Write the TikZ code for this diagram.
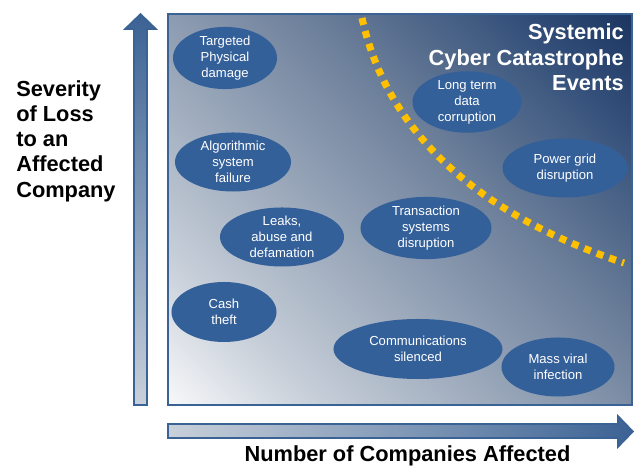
\documentclass[tikz,border=0pt]{standalone}
\usepackage{fontspec}
\setmainfont{Liberation Sans}
\usetikzlibrary{positioning,shapes.geometric}
\definecolor{mynavy}{HTML}{1A3560}
\definecolor{mylight}{HTML}{F8F8FA}
\definecolor{mypale}{HTML}{C8D0DA}
\definecolor{myblue}{HTML}{34609A}
\definecolor{myedge}{HTML}{3B6294}
\definecolor{mygold}{HTML}{FFC000}

\pgfdeclarehorizontalshading{panelshade}{100bp}{
  color(0bp)=(mylight); color(25bp)=(mylight);
  color(34bp)=(rgb,255:red,198;green,206;blue,216);
  color(50bp)=(rgb,255:red,132;green,148;blue,171);
  color(56bp)=(rgb,255:red,108;green,127;blue,154);
  color(68bp)=(rgb,255:red,52;green,80;blue,122);
  color(75bp)=(mynavy); color(100bp)=(mynavy)}

\tikzset{
  event/.style={ellipse, fill=myblue, text=white, inner sep=0pt, align=center,
    font=\fontsize{9.3}{11.3}\selectfont},
  bigtext/.style={font=\fontsize{15.5}{18}\selectfont\bfseries, inner sep=0pt}
}

\begin{document}
\begin{tikzpicture}[x=0.025cm, y=0.025cm]

\useasboundingbox (0,0) rectangle (640,466);
% filling
\begin{scope}
\clip (168,61) rectangle (632,452);
\begin{scope}[transform canvas={rotate around={45:(400,256.5)}}]
\shade [shading=panelshade] (97.7,-45.8) rectangle (702.3,558.8);
\end{scope}
\end{scope}
\draw [myedge, line width=1.4pt] (168,61) rectangle (632,452);
% arrows
\shade [draw=myedge, line width=1.1pt, top color=myedge, bottom color=mypale, shading angle=0]
  (134,61) -- (134,437) -- (125,437) -- (140.5,452) -- (156,437) -- (147,437) -- (147,61) -- cycle;
\shade [draw=myedge, line width=1.1pt, left color=mypale, right color=myedge]
  (168,28) -- (168,42) -- (618,42) -- (618,50) -- (633,34.5) -- (618,19) -- (618,28) -- cycle;
% boundary
\draw [mygold, line width=5pt, dash pattern=on 5pt off 4.5pt] (362,448) .. controls (382,356) and (450,261) .. (624,203);
% events
\node [event, minimum width=2.6cm, minimum height=1.5cm] (physical) at (225,408) {Targeted\\Physical\\damage};
\node [event, minimum width=2.9cm, minimum height=1.475cm] (algo) at (233,304) {Algorithmic\\system\\failure};
\node [event, minimum width=3.1cm, minimum height=1.475cm] (leaks) at (282,229) {Leaks,\\abuse and\\defamation};
\node [event, minimum width=2.625cm, minimum height=1.5cm] (cash) at (224,154) {Cash\\theft};
\node [event, minimum width=3.275cm, minimum height=1.5cm] (transaction) at (426,238) {Transaction\\systems\\disruption};
\node [event, minimum width=4.225cm, minimum height=1.5cm] (comms) at (418,117) {Communications\\silenced};
\node [event, minimum width=2.825cm, minimum height=1.475cm] (viral) at (558,99) {Mass viral\\infection};
\node [event, minimum width=2.725cm, minimum height=1.45cm] (corruption) at (467,364) {Long term\\data\\corruption};
\node [event, minimum width=3.125cm, minimum height=1.475cm] (grid) at (565,298) {Power grid\\disruption};
% writings
\node [bigtext, anchor=west, align=left] (severity) at (16,325) {Severity\\of Loss\\to an\\Affected\\Company};
\node [bigtext, anchor=east, align=right, text=white] (systemic) at (624,408.5) {Systemic\\Cyber Catastrophe\\Events};
\node [bigtext, anchor=base] (number) at (407.5,4) {Number of Companies Affected};

\end{tikzpicture}
\end{document}
